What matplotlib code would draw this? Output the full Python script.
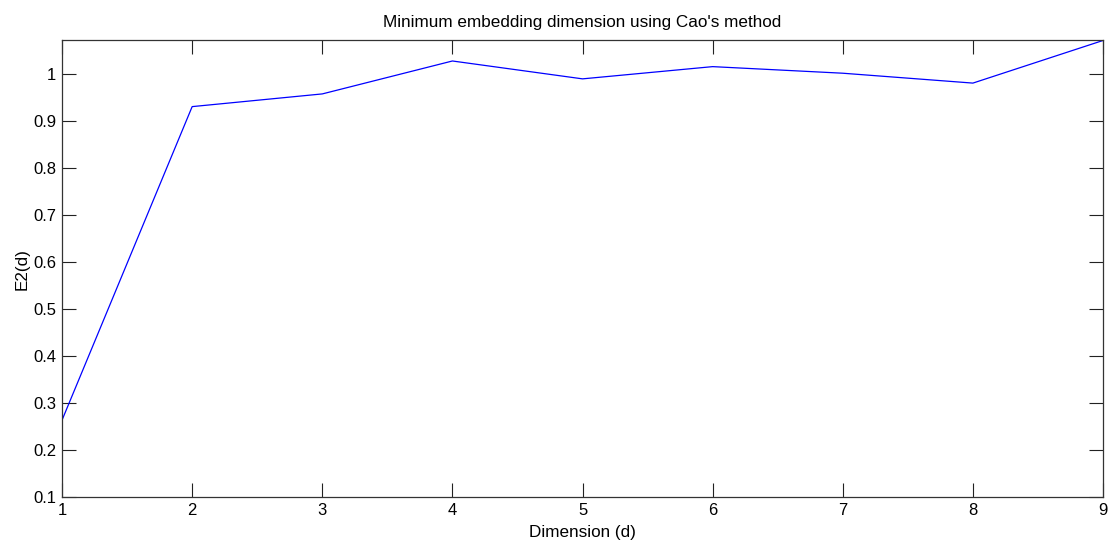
import numpy as np
import matplotlib
matplotlib.use("Agg")
import matplotlib.pyplot as plt

plt.rcParams['font.family'] = ['Liberation Sans', 'DejaVu Sans']

dims = [1, 2, 3, 4, 5, 6, 7, 8, 9]
e2 = [0.2646, 0.931, 0.958, 1.028, 0.990, 1.016, 1.002, 0.981, 1.0716]
yticks = [0.1, 0.2, 0.3, 0.4, 0.5, 0.6, 0.7, 0.8, 0.9, 1]
ytick_labels = ['0.1', '0.2', '0.3', '0.4', '0.5', '0.6', '0.7', '0.8', '0.9', '1']

fig = plt.figure(figsize=(11.08, 5.47), dpi=100)
ax = fig.add_axes([0.056, 0.0905, 0.9395, 0.8355])

ax.plot(dims, e2, color='#0000ff', linewidth=0.9)

ax.set_xlim(1, 9)
ax.set_ylim(0.1, max(e2))
ax.set_xticks(dims)
ax.set_yticks(yticks)
ax.set_yticklabels(ytick_labels)

ax.tick_params(direction='in', length=10, width=0.8, top=True, right=True,
               labelsize=12, pad=4, colors='#222222', labelcolor='black')
for s in ax.spines.values():
    s.set_color('#333333')
    s.set_linewidth(0.9)

ax.set_title("Minimum embedding dimension using Cao's method", fontsize=12.3, pad=10)
ax.set_xlabel('Dimension (d)', fontsize=12.3, labelpad=5)
ax.set_ylabel('E2(d)', fontsize=12.3, labelpad=3)

fig.savefig('out.png', dpi=100)
